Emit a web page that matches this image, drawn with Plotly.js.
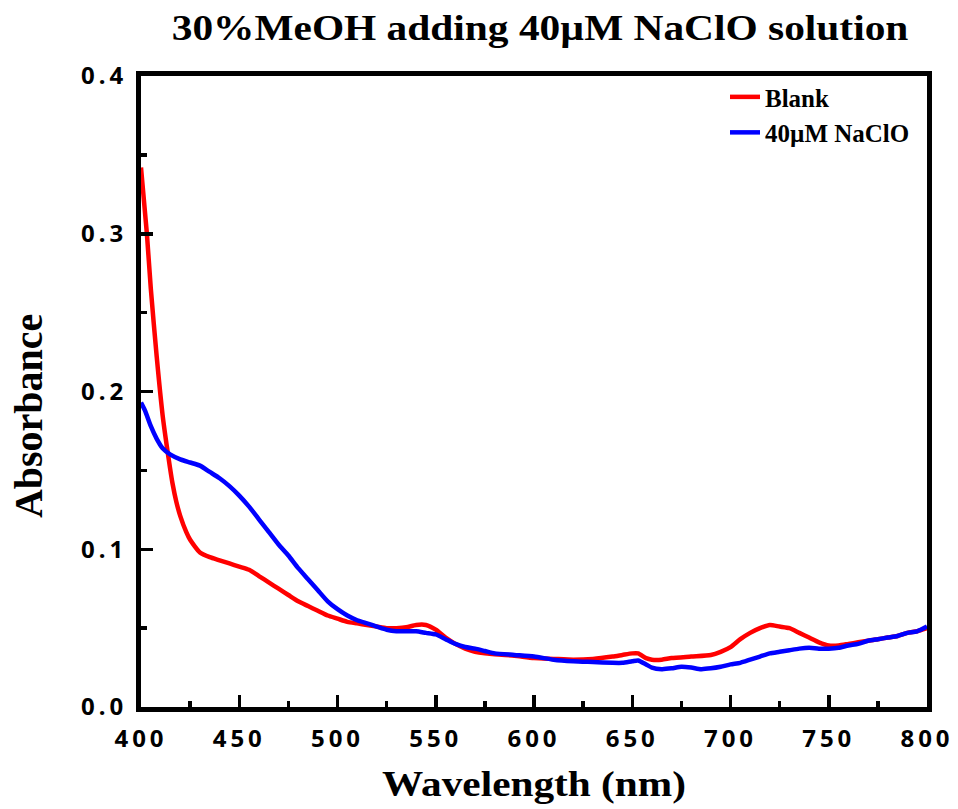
<!DOCTYPE html>
<html>
<head>
<meta charset="utf-8">
<script src="https://cdn.plot.ly/plotly-3.0.1.min.js"></script>
<style>
  html, body { margin: 0; padding: 0; background: #fff; }
  #chart { width: 958px; height: 809px; }
  .xtick text, .ytick text { letter-spacing: 4px; }
  .gtitle { transform-box: fill-box; transform-origin: center; transform: scaleX(1.15); }
  .xtitle { transform-box: fill-box; transform-origin: center; transform: scaleX(1.18); }
</style>
</head>
<body>
<div id="chart"></div>
<script>
// ---- data ----
const wavelengthBlank = [400,403,405,408,411,414,416,418,420,423,425,430,435,440,445,450,455,460,465,470,475,480,485,490,495,500,505,510,515,520,525,530,535,540,545,550,555,560,565,570,575,580,590,600,610,620,630,640,645,650,653,657,660,665,670,680,690,695,700,705,710,715,720,725,730,735,740,745,750,755,760,765,770,775,780,785,790,795,800];
const absBlank = [0.342,0.300,0.265,0.222,0.185,0.158,0.142,0.130,0.121,0.111,0.106,0.098,0.095,0.093,0.091,0.089,0.087,0.083,0.079,0.075,0.071,0.067,0.064,0.061,0.058,0.056,0.054,0.053,0.052,0.051,0.050,0.050,0.0505,0.052,0.052,0.049,0.044,0.040,0.037,0.035,0.034,0.0335,0.0325,0.031,0.0305,0.030,0.0305,0.032,0.033,0.034,0.034,0.031,0.030,0.030,0.031,0.032,0.033,0.035,0.038,0.043,0.047,0.050,0.052,0.051,0.050,0.047,0.044,0.041,0.039,0.039,0.040,0.041,0.042,0.043,0.044,0.045,0.047,0.048,0.050];

const wavelengthNaClO = [400,402,405,408,411,415,420,425,430,435,440,445,450,455,460,465,470,475,480,485,490,495,500,505,510,515,520,525,530,535,540,545,550,555,560,565,570,575,580,590,600,610,620,630,640,645,650,653,657,660,665,670,675,680,685,690,695,700,705,710,715,720,725,730,735,740,745,750,755,760,765,770,775,780,785,790,795,800];
const absNaClO = [0.193,0.188,0.178,0.170,0.164,0.160,0.157,0.155,0.153,0.149,0.145,0.140,0.134,0.127,0.119,0.111,0.103,0.096,0.088,0.081,0.074,0.067,0.062,0.058,0.055,0.053,0.051,0.049,0.048,0.048,0.048,0.047,0.046,0.043,0.040,0.038,0.037,0.0355,0.034,0.033,0.032,0.030,0.029,0.0285,0.028,0.028,0.029,0.0295,0.027,0.025,0.024,0.0245,0.0255,0.025,0.024,0.0245,0.0255,0.027,0.028,0.030,0.032,0.034,0.035,0.036,0.037,0.0375,0.037,0.037,0.0375,0.039,0.040,0.042,0.043,0.044,0.045,0.047,0.048,0.051];

const seriesNames = ['Blank', '40\u00b5M NaClO'];
const seriesColors = ['#ff0000', '#0000ff'];
const chartTitle = '30%MeOH adding 40\u00b5M NaClO solution';
const xTitle = 'Wavelength (nm)';
const yTitle = 'Absorbance';

const serif = 'Liberation Serif, Times New Roman, serif';
const sans = 'Noto Sans, DejaVu Sans, sans-serif';

const traces = [
  { x: wavelengthBlank, y: absBlank, name: seriesNames[0], type: 'scatter', mode: 'lines',
    line: { color: seriesColors[0], width: 4.5, shape: 'spline', smoothing: 0.6 } },
  { x: wavelengthNaClO, y: absNaClO, name: seriesNames[1], type: 'scatter', mode: 'lines',
    line: { color: seriesColors[1], width: 4.5, shape: 'spline', smoothing: 0.6 } }
];

const axisCommon = {
  showgrid: false, zeroline: false,
  showline: true, linecolor: '#000', linewidth: 5, mirror: true,
  ticks: 'inside', ticklen: 12, tickwidth: 3.5, tickcolor: '#000',
  tickfont: { family: sans, size: 24, color: '#000', weight: 'bold' },
  fixedrange: true
};

const layout = {
  width: 958, height: 809,
  margin: { l: 141, r: 31, t: 76, b: 102 },
  paper_bgcolor: '#fff', plot_bgcolor: '#fff',
  showlegend: true,
  title: { text: chartTitle, x: 0.5637, xanchor: 'center', xref: 'container', y: 0.966, yanchor: 'middle', yref: 'container',
           font: { family: serif, size: 36, color: '#000', weight: 'bold' } },
  xaxis: Object.assign({}, axisCommon, {
    range: [400, 800], dtick: 50, tick0: 400,
    minor: { ticks: 'inside', ticklen: 6, tickwidth: 3.5, tickcolor: '#000', dtick: 25 },
    ticklabelstandoff: 6,
    title: { text: xTitle, standoff: 20, font: { family: serif, size: 35, color: '#000', weight: 'bold' } }
  }),
  yaxis: Object.assign({}, axisCommon, {
    range: [0, 0.4], dtick: 0.1, tick0: 0, tickformat: '.1f',
    minor: { ticks: 'inside', ticklen: 6, tickwidth: 3.5, tickcolor: '#000', dtick: 0.05 },
    ticklabelstandoff: 4
  }),
  legend: {
    x: 0.743, y: 1.003, xanchor: 'left', yanchor: 'top',
    bgcolor: 'rgba(0,0,0,0)', borderwidth: 0,
    font: { family: serif, size: 25, color: '#000', weight: 'bold' },
    tracegroupgap: 0
  },
  annotations: [
    { text: yTitle, xref: 'paper', yref: 'paper', x: -0.1438, y: 0.461, xanchor: 'center', yanchor: 'middle',
      textangle: -90, showarrow: false, font: { family: serif, size: 40, color: '#000', weight: 'bold' } }
  ]
};

Plotly.newPlot('chart', traces, layout, { displayModeBar: false, staticPlot: true });
</script>
</body>
</html>
